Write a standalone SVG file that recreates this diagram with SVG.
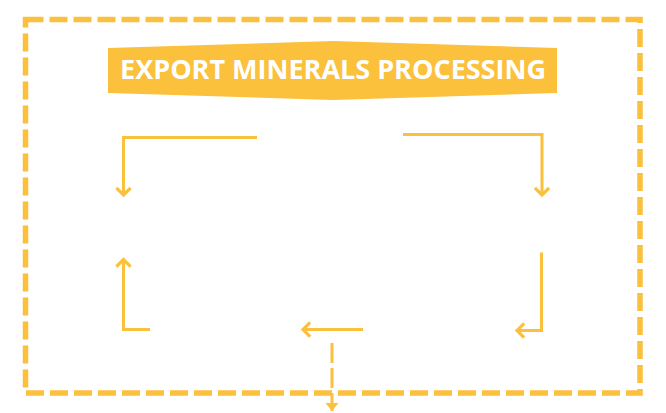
<svg xmlns="http://www.w3.org/2000/svg" width="666" height="413" viewBox="0 0 666 413">
<style>
.frame{fill:none;stroke:#FBC03C;stroke-width:5.5;stroke-dasharray:18 6}
.c{fill:none;stroke:#FBC03C;stroke-width:3}
.d{fill:none;stroke:#FBC03C;stroke-width:3;stroke-dasharray:20 5}
.title{font-family:"Open Sans","Liberation Sans",sans-serif;font-weight:700;font-size:27px;fill:#fff}
</style>
<defs>
<marker id="chev" viewBox="-10 -10 20 20" refX="0" refY="0" markerWidth="20" markerHeight="20" markerUnits="userSpaceOnUse" orient="auto">
<path d="M-6,-6 L0,0 L-6,6" fill="none" stroke="#FBC03C" stroke-width="3.2" stroke-linecap="square"/>
</marker>
<marker id="tri" viewBox="-10 -10 20 20" refX="0" refY="0" markerWidth="20" markerHeight="20" markerUnits="userSpaceOnUse" orient="auto">
<path d="M-8,-6.5 L0,0 L-8,6.5 Z" fill="#FBC03C"/>
</marker>
</defs>
<g id="frame">
<rect class="frame" x="25.5" y="19.5" width="614.5" height="373.5"/>
</g>
<g id="banner">
<path d="M108,48 L333,41 L557,48 L557,93 L333,100 L108,93 Z" fill="#FBC03C"/>
<text class="title" x="333" y="79" text-anchor="middle">EXPORT MINERALS PROCESSING</text>
</g>
<g id="connectors">
<path class="c" d="M257,137.5 H123.5 V195" marker-end="url(#chev)"/>
<path class="c" d="M403,134.5 H542 V195" marker-end="url(#chev)"/>
<path class="c" d="M150,329.5 H123.5 V259.5" marker-end="url(#chev)"/>
<path class="c" d="M541.5,252.5 V330.5 H517" marker-end="url(#chev)"/>
<path class="c" d="M363,329.5 H303" marker-end="url(#chev)"/>
<path class="d" d="M332,343 V411" marker-end="url(#tri)"/>
</g>
</svg>
